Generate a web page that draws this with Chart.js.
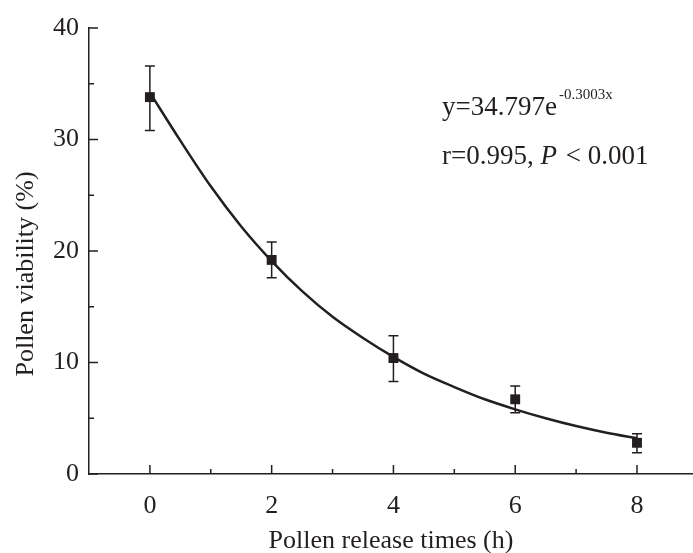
<!DOCTYPE html>
<html>
<head>
<meta charset="utf-8">
<script src="https://cdn.jsdelivr.net/npm/chart.js@4"></script>
<style>
html, body { margin: 0; padding: 0; background: #fff; overflow: hidden; }
#wrap { width: 700px; height: 553px; }
</style>
</head>
<body>
<div id="wrap"><canvas id="grafico"></canvas></div>
<script>
// measured points (mean and error bar ends)
const times = [0, 2, 4, 6, 8];
const viability = [33.8, 19.2, 10.4, 6.7, 2.8];
const errHigh = [36.6, 20.8, 12.4, 7.9, 3.6];
const errLow = [30.8, 17.6, 8.3, 5.5, 1.9];

// fitted curve
const fitX = [0, 0.5, 1, 1.5, 2, 2.5, 3, 3.5, 4, 4.5, 5, 5.5, 6, 6.5, 7, 7.5, 8];
const fitY = [34.2, 29.9, 25.8, 22.2, 19.1, 16.4, 14.1, 12.2, 10.5, 9.0, 7.8, 6.7, 5.8, 5.0, 4.3, 3.7, 3.2];

// axis ticks
const xTicks = [0, 2, 4, 6, 8];
const xMinor = [1, 3, 5, 7];
const yTicks = [0, 10, 20, 30, 40];
const yMinor = [5, 15, 25, 35];

const ink = "#231f20";
const serif = "'Liberation Serif', 'Times New Roman', serif";

const extras = {
  id: "extras",
  afterDatasetsDraw(chart) {
    const ctx = chart.ctx;
    const x = chart.scales.x;
    const y = chart.scales.y;
    ctx.save();
    ctx.strokeStyle = ink;
    ctx.fillStyle = ink;

    // error bars
    ctx.lineWidth = 1.5;
    times.forEach((t, i) => {
      let px = x.getPixelForValue(t);
      let top = y.getPixelForValue(errHigh[i]);
      let bot = y.getPixelForValue(errLow[i]);
      ctx.beginPath();
      ctx.moveTo(px, top); ctx.lineTo(px, bot);
      ctx.moveTo(px - 5, top); ctx.lineTo(px + 5, top);
      ctx.moveTo(px - 5, bot); ctx.lineTo(px + 5, bot);
      ctx.stroke();
    });

    // ticks pointing inward
    let base = y.getPixelForValue(0);
    let left = chart.chartArea.left;
    ctx.beginPath();
    xTicks.forEach(v => { let p = x.getPixelForValue(v); ctx.moveTo(p, base); ctx.lineTo(p, base - 9); });
    xMinor.forEach(v => { let p = x.getPixelForValue(v); ctx.moveTo(p, base); ctx.lineTo(p, base - 5); });
    yTicks.forEach(v => { let p = y.getPixelForValue(v); ctx.moveTo(left, p); ctx.lineTo(left + 9, p); });
    yMinor.forEach(v => { let p = y.getPixelForValue(v); ctx.moveTo(left, p); ctx.lineTo(left + 5, p); });
    ctx.stroke();

    // y axis title
    ctx.save();
    ctx.translate(26, 274);
    ctx.rotate(-Math.PI / 2);
    ctx.textAlign = "center";
    ctx.textBaseline = "middle";
    ctx.font = "26px " + serif;
    ctx.fillText("Pollen viability (%)", 0, 0);
    ctx.restore();

    // equation text
    ctx.textBaseline = "middle";
    ctx.textAlign = "left";
    let tx = 442;
    ctx.font = "27px " + serif;
    let main = "y=34.797e";
    ctx.fillText(main, tx, 108);
    let w = ctx.measureText(main).width;
    ctx.font = "15px " + serif;
    ctx.fillText("-0.3003x", tx + w + 2, 95);

    ctx.font = "27px " + serif;
    let part1 = "r=0.995, ";
    ctx.fillText(part1, tx, 157);
    let w1 = ctx.measureText(part1).width;
    ctx.font = "italic 27px " + serif;
    ctx.fillText("P", tx + w1, 157);
    let w2 = ctx.measureText("P").width;
    ctx.font = "27px " + serif;
    ctx.fillText(" < 0.001", tx + w1 + w2 + 2, 157);
    ctx.restore();
  }
};

new Chart(document.getElementById("grafico"), {
  type: "scatter",
  data: {
    datasets: [
      {
        type: "line",
        label: "fit",
        data: fitX.map((v, i) => ({ x: v, y: fitY[i] })),
        borderColor: ink,
        borderWidth: 2.5,
        pointRadius: 0,
        cubicInterpolationMode: "monotone",
        fill: false
      },
      {
        label: "viability",
        data: times.map((v, i) => ({ x: v, y: viability[i] })),
        pointStyle: "rect",
        pointRadius: 7,
        pointBackgroundColor: ink,
        pointBorderWidth: 0
      }
    ]
  },
  options: {
    responsive: true,
    maintainAspectRatio: false,
    animation: false,
    layout: { padding: { top: 28, right: 0, left: 0, bottom: 0 } },
    plugins: {
      legend: { display: false },
      tooltip: { enabled: false }
    },
    scales: {
      x: {
        type: "linear",
        min: -1,
        max: 8.92,
        afterBuildTicks: axis => { axis.ticks = xTicks.map(v => ({ value: v })); },
        afterFit: axis => { axis.height = 79; },
        grid: { display: false },
        border: { display: true, color: ink, width: 1.5 },
        ticks: { color: ink, font: { family: serif, size: 26 }, padding: 9, maxRotation: 0 },
        title: { display: true, text: "Pollen release times (h)", color: ink, font: { family: serif, size: 26 }, padding: { top: 0, bottom: -4 } }
      },
      y: {
        type: "linear",
        min: 0,
        max: 40,
        afterBuildTicks: axis => { axis.ticks = yTicks.map(v => ({ value: v })); },
        afterFit: axis => { axis.width = 89; },
        grid: { display: false },
        border: { display: true, color: ink, width: 1.5 },
        ticks: { color: ink, font: { family: serif, size: 26 }, padding: 2 }
      }
    }
  },
  plugins: [extras]
});
</script>
</body>
</html>
